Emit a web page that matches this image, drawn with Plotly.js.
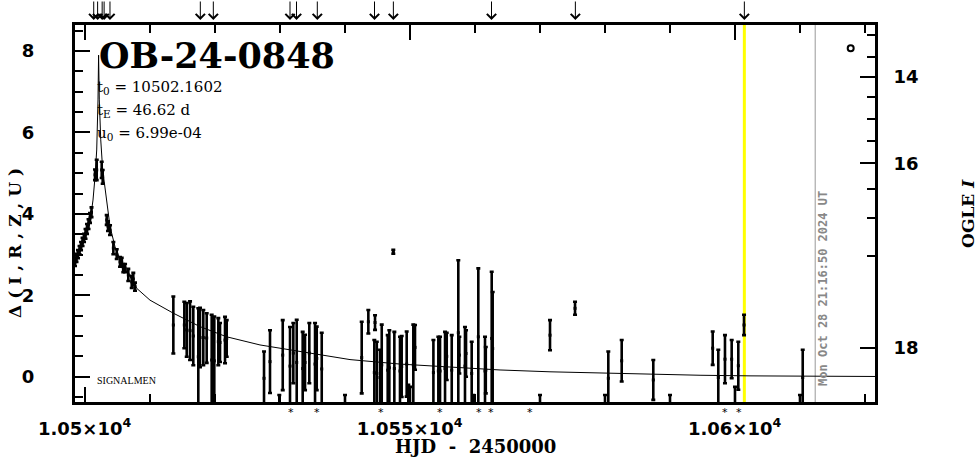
<!DOCTYPE html>
<html><head><meta charset="utf-8">
<script src="https://cdn.plot.ly/plotly-3.0.1.min.js"></script>
<style>html,body{margin:0;padding:0;background:#fff;}#chart{width:978px;height:459px;}
g.annotation[data-index="30"] text{letter-spacing:6px;}</style>
</head><body><div id="chart"></div>
<script>
// ---- data (HJD - 2450000, Delta(I,R,Z,U), symmetric error) ----
const hjd = [
 10498.52,10498.75,10498.98,10499.22,10499.45,10499.68,10499.91,10500.14,10500.37,10500.60,10500.83,10501.06,
 10501.60,10501.86,10502.63,10502.78,
 10503.40,10503.60,10503.91,10504.42,10504.94,10505.45,10505.71,10505.95,10506.22,10506.72,10507.25,10507.49,10507.75,
 10513.65,10515.34,10515.71,10516.22,10516.72,10517.49,10517.75,10518.26,10518.78,10519.55,10519.95,10520.57,10520.83,10521.60,10521.86,
 10527.60,10528.52,10529.95,10530.48,10531.60,10532.11,10532.63,10533.55,10533.91,10534.57,10535.45,10535.71,10536.48,
 10540.06,10542.63,10543.65,10544.68,10544.57,10544.95,10545.45,10545.71,10546.63,10546.88,10547.49,10547.65,10548.52,10548.78,
 10549.55,10549.80,10550.06,10550.57,10550.83,
 10553.66,10554.42,10554.68,10555.45,10555.71,10556.48,10557.49,10557.65,10558.52,10558.68,10559.55,10559.80,10560.57,
 10561.60,10561.72,10562.63,10562.78,
 10570.06,10571.60,10575.45,10580.06,10580.57,10582.63,10587.49,10590.06,
 10596.63,10597.49,10598.52,10599.55,10600.06,10600.57,10601.45,10610.06,10610.48
];
const delta = [
 2.82,2.92,3.01,3.11,3.21,3.31,3.41,3.51,3.63,3.75,3.90,4.04,
 4.96,5.08,5.08,4.91,
 3.85,3.70,3.60,3.16,3.01,2.82,2.82,2.67,2.67,2.50,2.33,2.40,2.21,
 1.27,1.27,1.15,1.13,1.00,0.49,0.96,0.96,0.95,0.41,0.39,0.86,0.84,0.90,0.94,
 -0.04,0.37,-1.00,0.53,0.26,0.58,0.35,0.20,0.35,0.58,0.31,0.45,0.19,
 -1.00,0.47,1.35,1.33,0.10,0.08,-0.02,0.29,0.16,0.22,3.07,0.20,0.14,0.25,
 0.31,-0.80,-0.80,0.29,0.72,
 0.10,0.14,0.14,0.20,0.50,0.16,1.08,0.53,0.26,0.57,0.08,-1.00,0.98,
 0.14,0.16,0.94,0.69,
 -1.00,1.02,1.68,-1.00,-0.04,0.39,-0.08,-1.00,
 0.70,-0.02,0.43,0.43,-0.80,0.27,1.27,-1.00,-0.02
];
const deltaErr = [
 0.10,0.10,0.10,0.10,0.10,0.10,0.10,0.12,0.12,0.12,0.12,0.12,
 0.13,0.25,0.20,0.17,
 0.12,0.12,0.12,0.15,0.12,0.12,0.10,0.10,0.10,0.15,0.15,0.15,0.10,
 0.70,0.57,0.66,0.72,0.72,1.19,0.73,0.68,0.61,1.11,1.09,0.58,0.48,0.57,0.45,
 0.66,0.77,0.55,0.86,0.96,0.74,1.05,0.90,0.68,0.74,1.01,0.78,0.89,
 0.55,0.88,0.29,0.18,0.80,0.78,0.68,0.99,0.86,0.92,0.05,0.90,0.84,0.75,
 0.80,0.60,0.55,0.99,0.55,
 0.80,0.84,0.84,0.90,0.58,0.86,1.78,0.45,0.96,0.57,0.78,0.55,1.68,
 0.84,0.57,1.64,1.39,
 0.55,0.37,0.16,0.55,0.66,0.51,0.49,0.55,
 0.41,0.68,0.59,0.47,0.55,0.59,0.25,0.55,0.68
];
const curveHjd = [10498.52,10499.29,10500.06,10500.83,10501.29,10501.60,10501.86,10502.06,10502.15,10502.26,10502.48,10502.78,
 10503.40,10503.91,10504.68,10505.71,10506.98,10508.02,10510.06,10513.65,10517.75,10521.86,10526.98,10533.14,10540.83,
 10548.52,10556.22,10563.91,10571.60,10579.29,10586.98,10594.68,10602.37,10610.06,10621.60];
const curveDelta = [2.79,3.11,3.41,3.80,4.34,4.91,5.57,6.80,7.90,6.80,5.82,5.08,
 4.34,3.69,3.19,2.79,2.46,2.17,1.88,1.56,1.23,0.98,0.78,0.62,0.42,
 0.31,0.23,0.165,0.12,0.09,0.06,0.035,0.02,0.01,0.005];
const extraHjd = [10617.86];
const extraDelta = [8.07];
const arrowHjd = [10501.4,10502.0,10502.7,10503.0,10503.9,10517.8,10519.8,10531.6,10532.6,10535.8,10544.6,10547.5,10562.6,10575.5,10601.5];
const starHjd = [10531.7,10535.8,10545.6,10554.6,10560.6,10562.5,10568.5,10598.5,10600.6];
const yellowHjd = 10601.5;
const grayHjd = 10612.4;
const xTickVals = [10500,10550,10600];
const xTickText = ['1.05×10<sup>4</sup>','1.055×10<sup>4</sup>','1.06×10<sup>4</sup>'];
const yTickVals = [0,2,4,6,8];
const ogleTickVals = [7.37,5.24,0.71];
const ogleTickText = ['14','16','18'];
const ogleMinorVals = [8.40,7.86,6.86,6.32,5.80,4.61,3.91,2.97];
const xRange = [10498.52,10621.6];
const yRange = [-0.622,8.641];

// ---- figure ----
const tickFont = {family:'DejaVu Sans', size:18, color:'#000', weight:'bold'};
const serifB = 'DejaVu Serif';
const traces = [
 {x:curveHjd, y:curveDelta, mode:'lines', line:{color:'#000', width:1}, hoverinfo:'skip', showlegend:false},
 {x:hjd, y:delta, mode:'markers', marker:{color:'#000', size:3, symbol:'square'},
  error_y:{type:'data', array:deltaErr, visible:true, color:'#000', thickness:2.6, width:2}, showlegend:false},
 {x:extraHjd, y:extraDelta, yaxis:'y2', mode:'markers', marker:{symbol:'circle-open', size:6, color:'#000', line:{width:2, color:'#000'}}, showlegend:false}
];
const annotations = [];
arrowHjd.forEach(d => annotations.push({x:d, xref:'x', y:1+5/377, yref:'paper', ax:0, ay:-20, text:'', showarrow:true,
  arrowhead:4, arrowsize:1.8, arrowwidth:1, arrowcolor:'#000', standoff:0}));
starHjd.forEach(d => annotations.push({x:d, xref:'x', y:-0.004, yref:'paper', yanchor:'top', text:'*', showarrow:false,
  font:{family:'DejaVu Sans', size:11, color:'#000'}}));
annotations.push(
 {xref:'paper', yref:'paper', x:0.0275, y:0.92, xanchor:'left', yanchor:'middle', text:'OB-24-0848', showarrow:false,
  font:{family:serifB, size:35, color:'#000', weight:'bold'}},
 {xref:'paper', yref:'paper', x:0.025, y:0.8355, xanchor:'left', yanchor:'middle', text:'t<sub>0</sub> = 10502.1602', showarrow:false,
  font:{family:serifB, size:15, color:'#000'}},
 {xref:'paper', yref:'paper', x:0.025, y:0.7745, xanchor:'left', yanchor:'middle', text:'t<sub>E</sub> = 46.62 d', showarrow:false,
  font:{family:serifB, size:15, color:'#000'}},
 {xref:'paper', yref:'paper', x:0.025, y:0.7135, xanchor:'left', yanchor:'middle', text:'u<sub>0</sub> = 6.99e-04', showarrow:false,
  font:{family:serifB, size:15, color:'#000'}},
 {xref:'paper', yref:'paper', x:0.025, y:0.058, xanchor:'left', yanchor:'middle', text:'SIGNALMEN', showarrow:false,
  font:{family:'Liberation Serif', size:10, color:'#000'}},
 {xref:'paper', yref:'paper', x:0.5, y:-0.119, xanchor:'center', yanchor:'middle', text:'HJD  -  2450000', showarrow:false,
  font:{family:serifB, size:18, color:'#000', weight:'bold'}},
 {xref:'paper', yref:'paper', x:-0.075, y:0.43, xanchor:'center', yanchor:'middle', textangle:-90, text:'Δ(I,R,Z,U)', showarrow:false,
  font:{family:serifB, size:17, color:'#000', weight:'bold'}},
 {xref:'paper', yref:'paper', x:1.116, y:0.501, xanchor:'center', yanchor:'middle', textangle:-90, text:'OGLE <i>I</i>', showarrow:false,
  font:{family:serifB, size:17, color:'#000', weight:'bold'}},
 {xref:'paper', yref:'paper', x:0.935, y:0.30, xanchor:'center', yanchor:'middle', textangle:-90, text:'Mon Oct 28 21:16:50 2024 UT', showarrow:false,
  font:{family:'DejaVu Sans Mono', size:12, color:'#888888', weight:'bold'}}
);
const layout = {
 width:978, height:459, autosize:false,
 margin:{l:75, r:103, t:25, b:57, pad:0, autoexpand:false},
 paper_bgcolor:'#fff', plot_bgcolor:'#fff', showlegend:false,
 xaxis:{range:xRange, showgrid:false, zeroline:false, showline:true, linewidth:3, linecolor:'#000', mirror:'ticks',
  tickmode:'array', tickvals:xTickVals, ticktext:xTickText, ticks:'inside', ticklen:15, tickwidth:2, tickcolor:'#000',
  minor:{dtick:10, tick0:10500, ticks:'inside', ticklen:8, tickwidth:2, tickcolor:'#000'},
  tickfont:tickFont, ticklabelstandoff:8},
 yaxis:{range:yRange, showgrid:false, zeroline:false, showline:true, linewidth:3, linecolor:'#000', mirror:false,
  tickmode:'array', tickvals:yTickVals, ticks:'inside', ticklen:15, tickwidth:2, tickcolor:'#000',
  minor:{dtick:0.5, tick0:0, ticks:'inside', ticklen:8, tickwidth:2, tickcolor:'#000'},
  tickfont:tickFont, ticklabelstandoff:34},
 yaxis2:{range:yRange, overlaying:'y', side:'right', anchor:'x', showgrid:false, zeroline:false, showline:true, linewidth:3, linecolor:'#000',
  tickmode:'array', tickvals:ogleTickVals, ticktext:ogleTickText, ticks:'inside', ticklen:15, tickwidth:2, tickcolor:'#000',
  minor:{tickmode:'array', tickvals:ogleMinorVals, ticks:'inside', ticklen:8, tickwidth:2, tickcolor:'#000'},
  tickfont:tickFont, ticklabelstandoff:12},
 shapes:[
  {type:'line', xref:'x', yref:'paper', x0:yellowHjd, x1:yellowHjd, y0:0, y1:1, line:{color:'#ffff00', width:3}, layer:'below'},
  {type:'line', xref:'x', yref:'paper', x0:grayHjd, x1:grayHjd, y0:0, y1:1, line:{color:'#999999', width:1}, layer:'below'}
 ],
 annotations:annotations
};
Plotly.newPlot('chart', traces, layout, {staticPlot:true, displayModeBar:false}).then(() => {
  // re-attach the axis tick marks Plotly drew on top of everything so they stay visible
  const svgs = document.querySelectorAll('#chart svg.main-svg');
  const topSvg = svgs[svgs.length - 1];
  const g = document.createElementNS('http://www.w3.org/2000/svg', 'g');
  document.querySelectorAll('#chart path.xtick, #chart path.ytick, #chart path.y2tick').forEach(p => {
    const c = p.cloneNode(true);
    c.setAttribute('stroke', '#000'); c.setAttribute('stroke-width', '2'); c.setAttribute('fill', 'none');
    g.appendChild(c);
  });
  topSvg.appendChild(g);
});
</script></body></html>
